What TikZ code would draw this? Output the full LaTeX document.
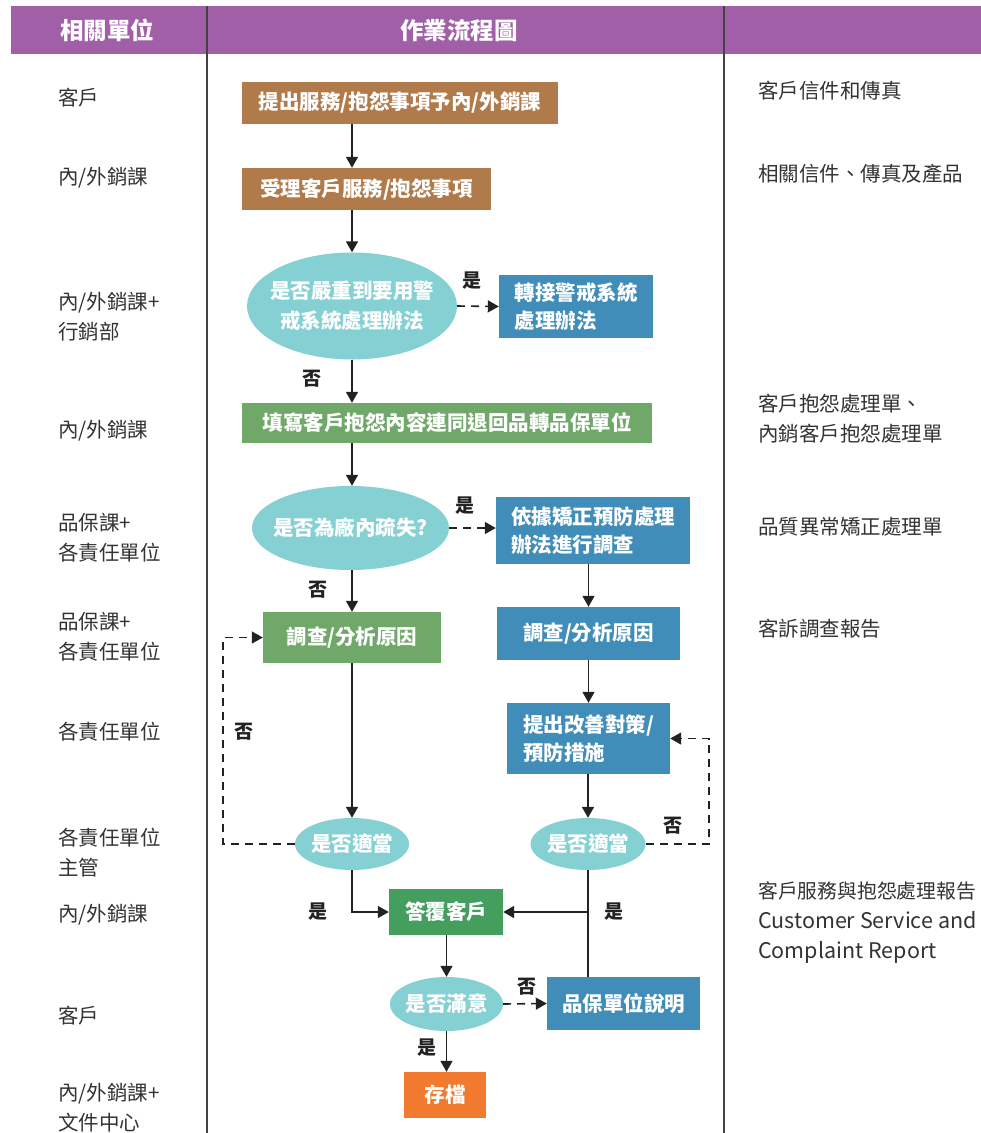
\documentclass[tikz,border=0pt]{standalone}
\usepackage{fontspec}
\setmainfont{Noto Sans CJK TC}
\usetikzlibrary{shapes.geometric,arrows.meta,calc}
\definecolor{hdr}{HTML}{A15FA8}
\definecolor{brn}{HTML}{B07A4A}
\definecolor{teal}{HTML}{84D0D3}
\definecolor{blu}{HTML}{3F8DB8}
\definecolor{lgrn}{HTML}{70A86A}
\definecolor{dgrn}{HTML}{449E5E}
\definecolor{org}{HTML}{F27A2F}
\definecolor{ink}{HTML}{222222}
\definecolor{txt}{HTML}{333333}
\newcommand{\zb}[1]{\makebox[0pt]{#1}}
\tikzset{
  box/.style={rectangle,inner sep=0pt,text=white,font=\fontsize{20.5}{28}\selectfont\bfseries},
  oval/.style={ellipse,inner sep=0pt,fill=teal,text=white,font=\fontsize{20.5}{30}\selectfont\bfseries,align=center},
  side/.style={anchor=west,text=txt,font=\fontsize{20.5}{30}\selectfont,align=left,inner sep=0pt},
  lbl/.style={text=ink,font=\fontsize{19}{22}\selectfont\bfseries,inner sep=0pt},
  arr/.style={draw=ink,line width=1.6pt,-{Triangle[length=11pt,width=12pt]}},
  ln/.style={draw=ink,line width=1.6pt},
  dsh/.style={dash pattern=on 8pt off 6pt},
  sep/.style={draw=ink!85,line width=1.4pt}
}
\begin{document}
\begin{tikzpicture}[x=1pt,y=-1pt]
\useasboundingbox (0,0) rectangle (981,1133);
% header
\fill[hdr] (11,6) rectangle (981,54);
\draw[sep] (207,6) -- (207,1133);
\draw[sep] (724,6) -- (724,1133);
\node[text=white,font=\fontsize{23.5}{26}\selectfont\bfseries] (h1) at (107,30) {相關單位};
\node[text=white,font=\fontsize{23.5}{26}\selectfont\bfseries] (h2) at (459,30) {作業流程圖};

% left column
\node[side] (l1) at (58,98) {客戶};
\node[side] (l2) at (58,178) {內/外銷課};
\node[side] (l3) at (58,317) {內/外銷課+\\行銷部};
\node[side] (l4) at (58,431) {內/外銷課};
\node[side] (l5) at (58,538) {品保課+\\各責任單位};
\node[side] (l6) at (58,637) {品保課+\\各責任單位};
\node[side] (l7) at (58,732) {各責任單位};
\node[side] (l8) at (58,853) {各責任單位\\主管};
\node[side] (l9) at (58,915) {內/外銷課};
\node[side] (l10) at (58,1016) {客戶};
\node[side] (l11) at (58,1108) {內/外銷課+\\文件中心};

% right column
\node[side] (r1) at (758,91) {客戶信件和傳真};
\node[side] (r2) at (758,174) {相關信件、傳真及產品};
\node[side] (r3) at (758,419) {客戶抱怨處理單、\\內銷客戶抱怨處理單};
\node[side] (r4) at (758,527) {品質異常矯正處理單};
\node[side] (r5) at (758,629) {客訴調查報告};
\node[side] (r6) at (758,923) {{\fontsize{19.8}{30}\selectfont 客戶服務與抱怨處理報告}\\{\fontsize{21.5}{30}\selectfont Customer Service and}\\{\fontsize{21.5}{30}\selectfont Complaint Report}};

% flow nodes
\node[box,fill=brn,minimum width=316,minimum height=42] (b1) at (400,103) {提出服務/抱怨事項予內/外銷課};
\node[box,fill=brn,minimum width=249,minimum height=42] (b2) at (366.5,189) {受理客戶服務/抱怨事項};
\node[oval,minimum width=210,minimum height=107] (e3) at (352,306) {\zb{是否嚴重到要用警}\\\zb{戒系統處理辦法}};
\node[box,fill=blu,minimum width=154,minimum height=63,align=left] (b4) at (576,306.5) {轉接警戒系統\\處理辦法};
\node[box,fill=lgrn,minimum width=410,minimum height=40] (b5) at (447,423) {填寫客戶抱怨內容連同退回品轉品保單位};
\node[oval,minimum width=197,minimum height=84] (e6) at (350.5,528) {\zb{是否為廠內疏失?}};
\node[box,fill=blu,minimum width=194,minimum height=67,align=left] (b7) at (593,530.5) {依據矯正預防處理\\辦法進行調查};
\node[box,fill=lgrn,minimum width=178,minimum height=51] (b8) at (352,637.5) {調查/分析原因};
\node[box,fill=blu,minimum width=183,minimum height=53] (b9) at (588.5,633.5) {調查/分析原因};
\node[box,fill=blu,minimum width=163,minimum height=71,align=left] (b10) at (588.5,738.5) {提出改善對策/\\預防措施};
\node[oval,minimum width=114,minimum height=52] (e11) at (352,844) {\zb{是否適當}};
\node[oval,minimum width=115,minimum height=52] (e12) at (588,844) {\zb{是否適當}};
\node[box,fill=dgrn,minimum width=114,minimum height=46] (b13) at (446,912) {答覆客戶};
\node[oval,minimum width=113,minimum height=54] (e14) at (446.5,1004) {\zb{是否滿意}};
\node[box,fill=blu,minimum width=153,minimum height=53] (b15) at (623.5,1003.5) {品保單位說明};
\node[box,fill=org,minimum width=82,minimum height=46] (b16) at (445,1095) {存檔};

% coordinates for loops
\coordinate (cL) at (223,0);
\coordinate (cR) at (709,0);

% connectors
\draw[arr] (b1.south -| e3.north) -- (b2.north -| e3.north);
\draw[arr] (b2.south -| e3.north) -- (e3.north);
\draw[arr,dsh] (e3.east) -- (b4.west);
\draw[arr] (e3.south) -- (b5.north -| e3.south);
\draw[arr] (b5.south -| e3.south) -- (e6.north -| e3.south);
\draw[arr,dsh] (e6.east) -- (e6.east -| b7.west);
\draw[arr] (e6.south -| b8.north) -- (b8.north);
\draw[arr] (b7.south -| b9.north) -- (b9.north);
\draw[arr] (b9.south) -- (b10.north);
\draw[arr] (b8.south) -- (e11.north);
\draw[arr] (b10.south -| e12.north) -- (e12.north);
\draw[arr,dsh] (e11.west) -- (e11.west -| cL) |- (b8.west);
\draw[arr,dsh] (e12.east) -- (e12.east -| cR) |- (b10.east);
\draw[arr] (e11.south) |- (b13.west);
\draw[ln] (e12.south) -- (b15.north -| e12.south);
\draw[arr] (e12.south |- b13.east) -- (b13.east);
\draw[arr] (b13.south -| e14.north) -- (e14.north);
\draw[arr,dsh] (e14.east) -- (b15.west);
\draw[arr] (e14.south) -- (b16.north -| e14.south);

% labels
\node[lbl] (y1) at (472,281) {是};
\node[lbl] (n1) at (312,379) {否};
\node[lbl] (y2) at (465,506) {是};
\node[lbl] (n2) at (318,590) {否};
\node[lbl] (n3) at (244,732) {否};
\node[lbl] (n4) at (673,826) {否};
\node[lbl] (y3) at (318,912) {是};
\node[lbl] (y4) at (614,912) {是};
\node[lbl] (n5) at (527,987) {否};
\node[lbl] (y5) at (427,1048) {是};
\end{tikzpicture}
\end{document}
